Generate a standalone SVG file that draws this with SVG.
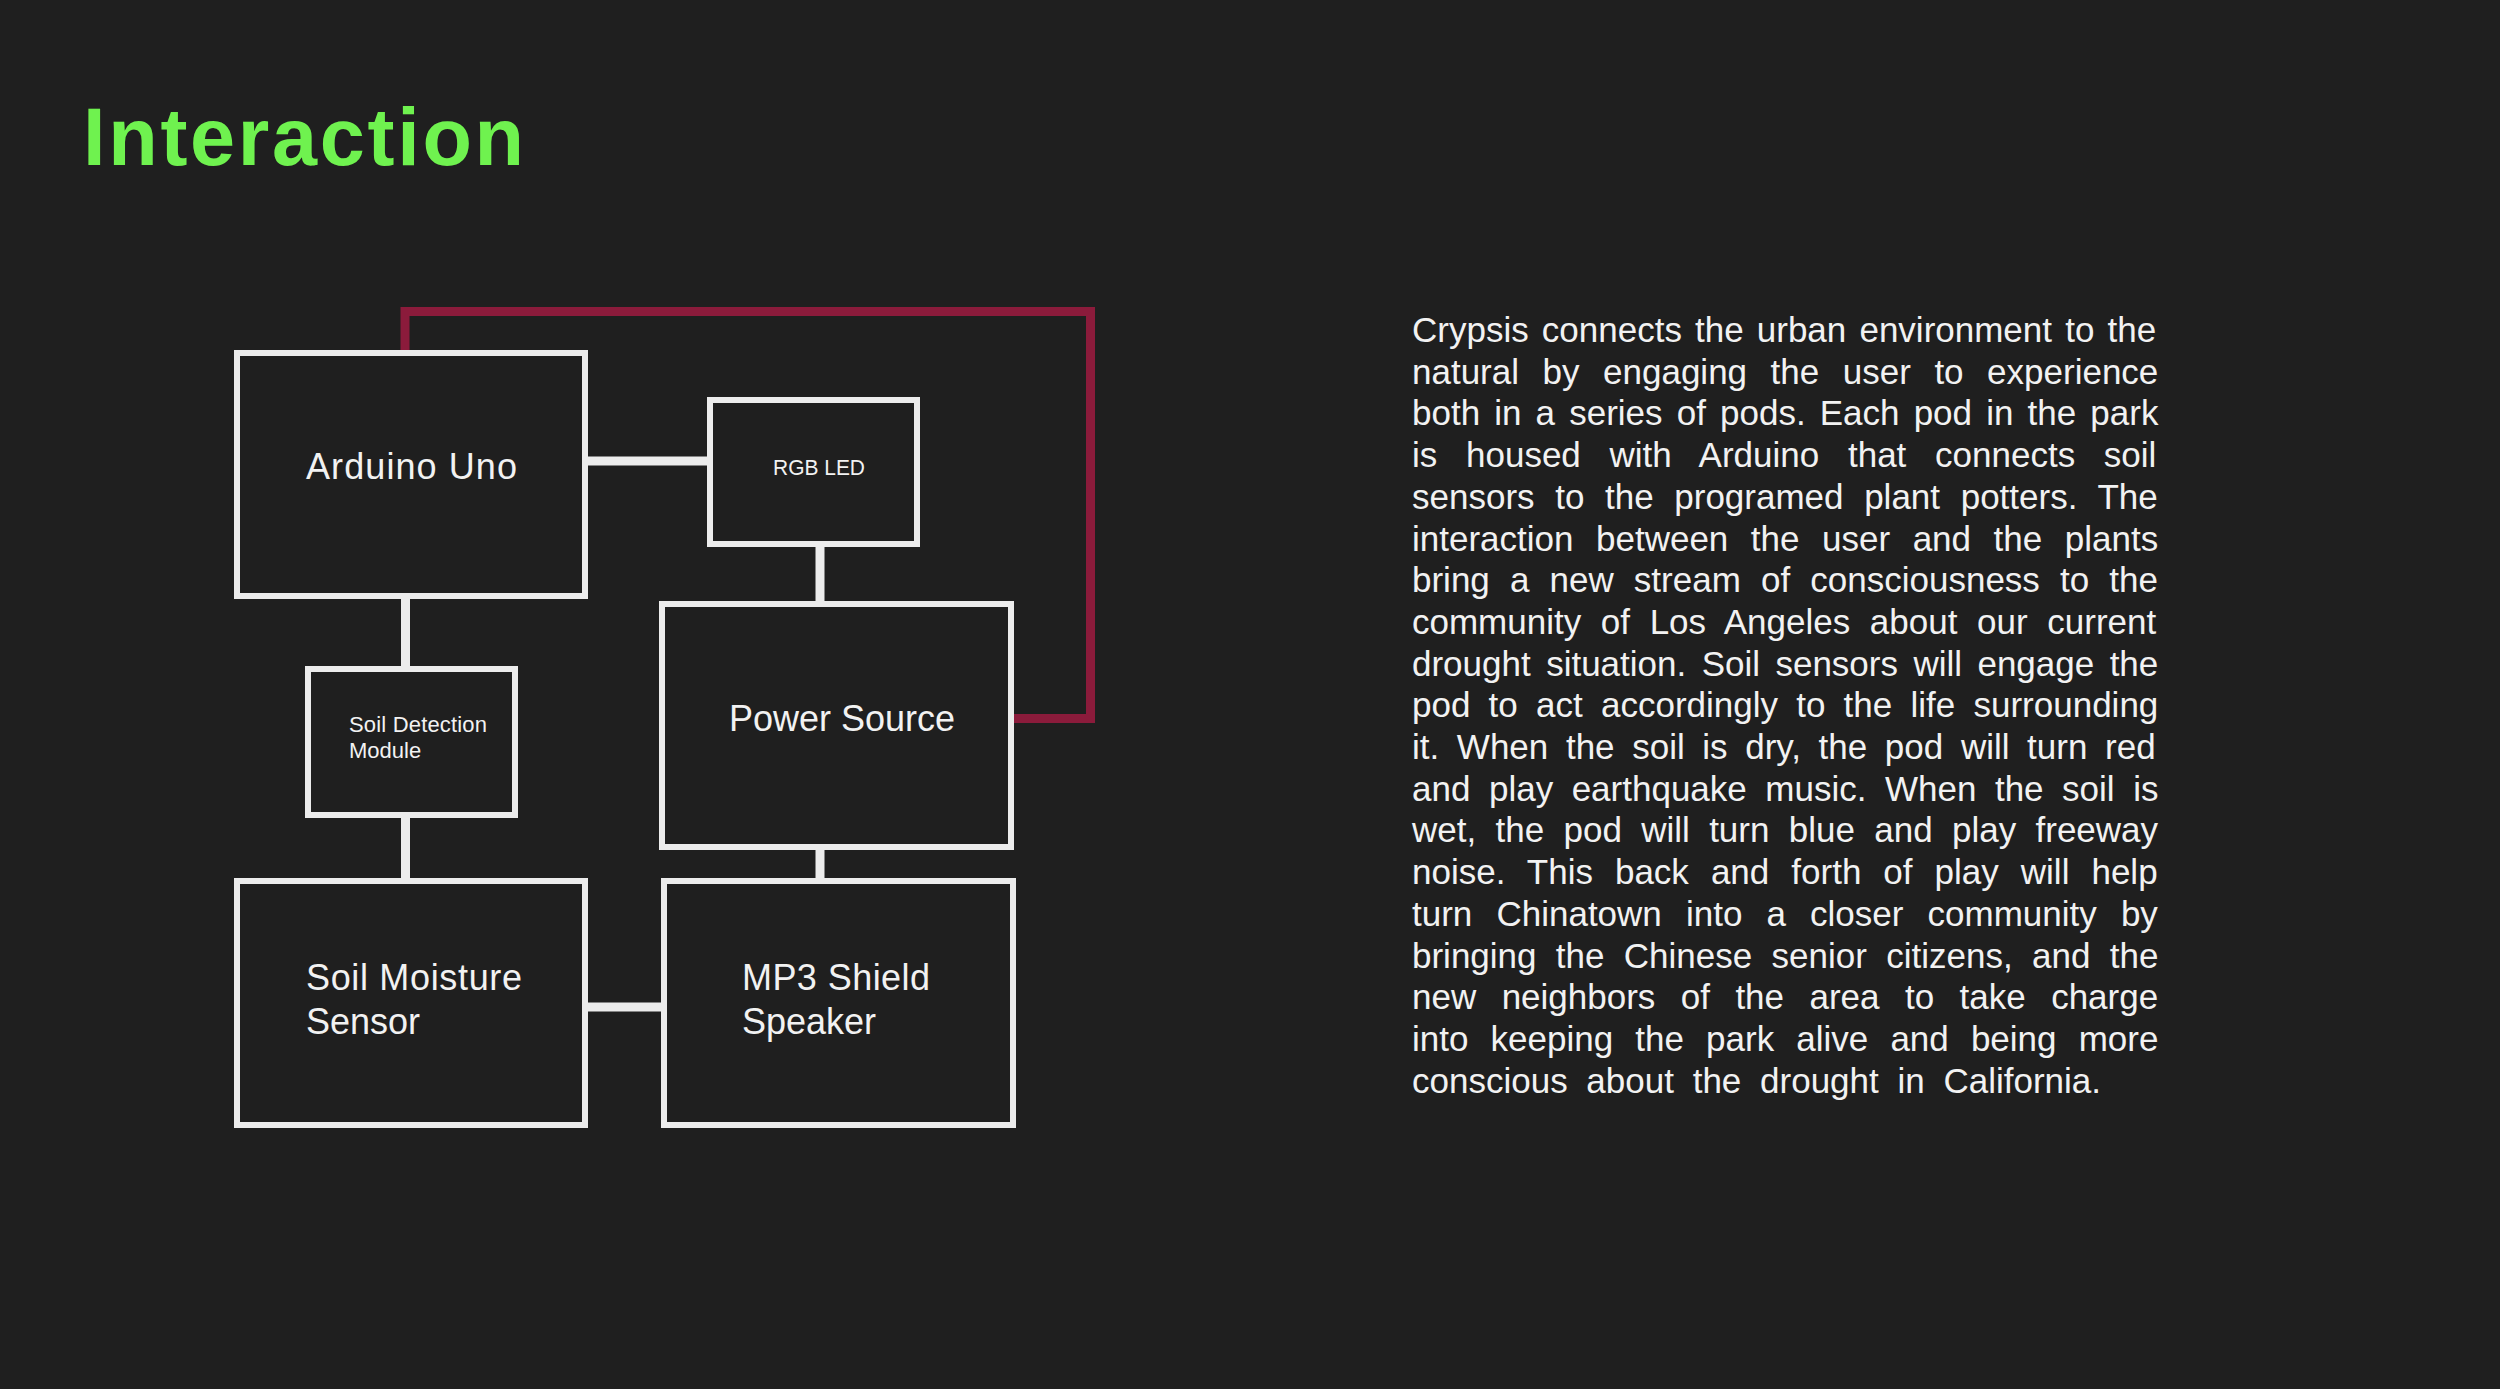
<svg xmlns="http://www.w3.org/2000/svg" width="2500" height="1389" viewBox="0 0 2500 1389">
<style>
.bg{fill:#1f1f1f}
.box{fill:#1f1f1f;stroke:#ececec;stroke-width:6}
.wire{stroke:#ececec;stroke-width:9;fill:none}
.red{stroke:#8b1b3b;stroke-width:9;fill:none}
.lbl{font-family:"Liberation Sans",Arial,sans-serif;fill:#f2f2f2}
.big{font-size:36px}
.small{font-size:22px}
.para{font-family:"Liberation Sans",Arial,sans-serif;font-size:35px;fill:#f2f2f2}
.title{font-family:"Liberation Sans",Arial,sans-serif;font-size:81px;font-weight:bold;fill:#6ff24f;letter-spacing:2.7px}
</style>
<rect class="bg" x="0" y="0" width="2500" height="1389"/>
<text class="title" x="83" y="165">Interaction</text>
<g id="connectors">
<polyline class="red" points="405,353 405,311.5 1090.5,311.5 1090.5,718.5 1011,718.5"/>
<line class="wire" x1="585" y1="461" x2="710" y2="461"/>
<line class="wire" x1="405.5" y1="596" x2="405.5" y2="669"/>
<line class="wire" x1="405.5" y1="815" x2="405.5" y2="881"/>
<line class="wire" x1="820" y1="544" x2="820" y2="604"/>
<line class="wire" x1="820" y1="847" x2="820" y2="881"/>
<line class="wire" x1="585" y1="1007" x2="664" y2="1007"/>
</g>
<g id="arduino">
<rect class="box" x="237" y="353" width="348" height="243"/>
<text class="lbl big" x="306" y="479" textLength="211" lengthAdjust="spacing">Arduino Uno</text>
</g>
<g id="rgbled">
<rect class="box" x="710" y="400" width="207" height="144"/>
<text class="lbl small" x="773" y="475" textLength="92" lengthAdjust="spacingAndGlyphs">RGB LED</text>
</g>
<g id="soildetect">
<rect class="box" x="308" y="669" width="207" height="146"/>
<text class="lbl small" x="349" y="732" textLength="138" lengthAdjust="spacing">Soil Detection</text>
<text class="lbl small" x="349" y="758">Module</text>
</g>
<g id="power">
<rect class="box" x="662" y="604" width="349" height="243"/>
<text class="lbl big" x="729" y="731" textLength="226" lengthAdjust="spacing">Power Source</text>
</g>
<g id="soilmoisture">
<rect class="box" x="237" y="881" width="348" height="244"/>
<text class="lbl big" x="306" y="990" textLength="216" lengthAdjust="spacing">Soil Moisture</text>
<text class="lbl big" x="306" y="1034">Sensor</text>
</g>
<g id="mp3">
<rect class="box" x="664" y="881" width="349" height="244"/>
<text class="lbl big" x="742" y="990" textLength="188" lengthAdjust="spacing">MP3 Shield</text>
<text class="lbl big" x="742" y="1034">Speaker</text>
</g>
<g id="description" class="para">
<text x="1412" y="342" word-spacing="3.4">Crypsis connects the urban environment to the</text>
<text x="1412" y="383.7" word-spacing="13.8">natural by engaging the user to experience</text>
<text x="1412" y="425.4" word-spacing="4.4">both in a series of pods. Each pod in the park</text>
<text x="1412" y="467.1" word-spacing="19">is housed with Arduino that connects soil</text>
<text x="1412" y="508.8" word-spacing="10.9">sensors to the programed plant potters. The</text>
<text x="1412" y="550.5" word-spacing="12.8">interaction between the user and the plants</text>
<text x="1412" y="592.2" word-spacing="10.4">bring a new stream of consciousness to the</text>
<text x="1412" y="633.9" word-spacing="9.9">community of Los Angeles about our current</text>
<text x="1412" y="675.6" word-spacing="5.7">drought situation. Soil sensors will engage the</text>
<text x="1412" y="717.3" word-spacing="8.5">pod to act accordingly to the life surrounding</text>
<text x="1412" y="759" word-spacing="7.9">it. When the soil is dry, the pod will turn red</text>
<text x="1412" y="800.7" word-spacing="8.8">and play earthquake music. When the soil is</text>
<text x="1412" y="842.4" word-spacing="9.6">wet, the pod will turn blue and play freeway</text>
<text x="1412" y="884.1" word-spacing="12.3">noise. This back and forth of play will help</text>
<text x="1412" y="925.8" word-spacing="14.4">turn Chinatown into a closer community by</text>
<text x="1412" y="967.5" word-spacing="9.6">bringing the Chinese senior citizens, and the</text>
<text x="1412" y="1009.2" word-spacing="15.7">new neighbors of the area to take charge</text>
<text x="1412" y="1050.9" word-spacing="12.4">into keeping the park alive and being more</text>
<text x="1412" y="1092.6" word-spacing="9">conscious about the drought in California.</text>
</g>
</svg>
